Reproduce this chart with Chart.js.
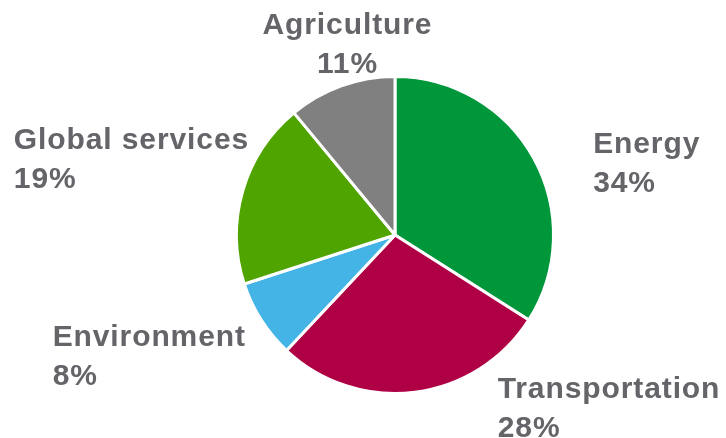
<!DOCTYPE html>
<html lang="en">
<head>
    <meta charset="UTF-8">
    <title>Sectors</title>
    <script src="https://cdn.jsdelivr.net/npm/chart.js"></script>
    <style>
        html, body { margin: 0; padding: 0; background: #fff; }
        #wrap { width: 726px; height: 438px; }
    </style>
</head>
<body>
    <div id="wrap"><canvas id="sectorChart" width="726" height="438"></canvas></div>

    <script>
        const sectors = ['Energy', 'Transportation', 'Environment', 'Global services', 'Agriculture'];
        const shares = [34, 28, 8, 19, 11];
        const sliceColors = ['#00963A', '#B00045', '#44B4E6', '#50A400', '#808080'];

        // label anchor relative to pie centre, in units of radius: [x, firstBaseline, align]
        const labelSpots = [
            [1.25, -0.515, 'left'],
            [0.648, 1.03, 'left'],
            [-2.16, 0.70, 'left'],
            [-2.405, -0.545, 'left'],
            [-0.30, -1.265, 'center']
        ];

        const outsideLabels = {
            id: 'outsideLabels',
            afterDatasetsDraw(chart) {
                const ctx = chart.ctx;
                const arcs = chart.getDatasetMeta(0).data;
                ctx.save();
                ctx.font = 'bold 30px "Liberation Sans", Arial, sans-serif';
                ctx.letterSpacing = '0.9px';
                ctx.fillStyle = '#646469';
                ctx.textBaseline = 'alphabetic';
                arcs.forEach((arc, i) => {
                    const r = arc.outerRadius;
                    const spot = labelSpots[i];
                    const x = arc.x + spot[0] * r;
                    const y = arc.y + spot[1] * r;
                    ctx.textAlign = spot[2];
                    ctx.fillText(sectors[i], x, y);
                    ctx.fillText(shares[i] + '%', x, y + 39);
                });
                ctx.restore();
            }
        };

        new Chart(document.getElementById('sectorChart'), {
            type: 'pie',
            data: {
                labels: sectors,
                datasets: [{
                    data: shares,
                    backgroundColor: sliceColors,
                    borderColor: '#ffffff',
                    borderWidth: 3
                }]
            },
            options: {
                responsive: false,
                animation: false,
                layout: { padding: { left: 235, right: 171, top: 75, bottom: 43 } },
                plugins: {
                    legend: { display: false },
                    tooltip: { enabled: false }
                }
            },
            plugins: [outsideLabels]
        });
    </script>
</body>
</html>
